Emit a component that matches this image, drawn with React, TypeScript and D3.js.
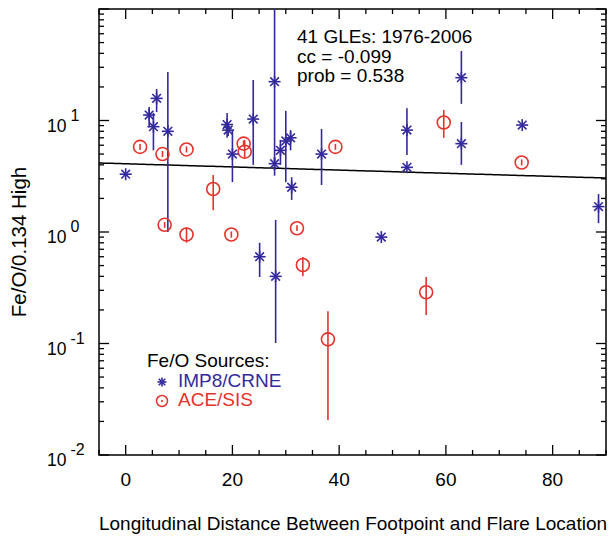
import React from "react";
import * as d3 from "d3";

// IMP8/CRNE (blue asterisks)
const impX = [0, 4.4, 5.8, 5.2, 7.9, 19.0, 19.2, 20.0, 23.9, 27.9, 27.9, 28.1, 29.0, 30.0, 30.9, 31.1, 25.1, 36.7, 47.9, 52.7, 52.7, 62.9, 62.9, 74.3, 88.6];
const impY = [3.3, 11.2, 15.8, 8.8, 8.0, 9.2, 8.2, 5.0, 10.3, 22.3, 4.1, 0.4, 5.4, 6.55, 7.0, 2.52, 0.6, 5.0, 0.9, 8.2, 3.8, 24.2, 6.2, 9.1, 1.69];
const impLo = [3.3, 8.7, 11.9, 5.4, 1.0, 7.0, 8.2, 2.8, 4.0, 3.2, 3.6, 0.101, 4.0, 2.8, 5.4, 1.94, 0.395, 2.64, 0.9, 4.9, 3.8, 14.1, 4.0, 9.1, 1.2];
const impHi = [3.3, 13.2, 19.2, 11.7, 27.2, 11.7, 8.2, 8.2, 23.1, 150, 4.7, 1.28, 6.7, 12.2, 8.2, 3.1, 0.8, 8.4, 0.9, 12.9, 3.8, 42, 9.7, 9.1, 2.19];

// ACE/SIS (red circles)
const aceX = [2.7, 6.9, 11.4, 16.4, 22.1, 22.3, 39.3, 59.6, 74.2, 7.3, 11.4, 19.8, 32.1, 33.2, 37.9, 56.3];
const aceY = [5.8, 5.0, 5.5, 2.43, 6.2, 5.25, 5.8, 9.6, 4.2, 1.16, 0.95, 0.95, 1.08, 0.506, 0.109, 0.288];
const aceLo = [5.45, 4.7, 5.17, 1.57, 5.83, 4.6, 5.45, 7.0, 3.95, 1.09, 0.8, 0.89, 1.02, 0.4, 0.0206, 0.18];
const aceHi = [6.17, 5.32, 5.85, 3.24, 6.6, 6.7, 6.17, 12.4, 4.47, 1.23, 1.1, 1.01, 1.15, 0.597, 0.195, 0.395];

// Fit line: log10(y) = a + b x
const fitA = 0.612;
const fitB = -0.00142;

const xTicks = [0, 20, 40, 60, 80];
const yDecades = [-2, -1, 0, 1];
const annot = ["41 GLEs: 1976-2006", "cc = -0.099", "prob = 0.538"];

const BLUE = "#33299c";
const RED = "#e4332a";
const FONT = "'Liberation Sans', Arial, Helvetica, sans-serif";

const L = 99, R = 606, T = 9, B = 455;

export default function App() {
  const x = d3.scaleLinear().domain([-5, 90]).range([L, R]);
  const y = d3.scaleLog().domain([0.01, 100]).range([B, T]);
  const cy = (v: number) => Math.max(T, Math.min(B, y(v)));

  const xMinor = d3.range(-5, 91, 5);
  const yMinor: number[] = [];
  for (let e = -2; e < 2; e++) for (let m = 2; m <= 9; m++) yMinor.push(m * Math.pow(10, e));

  const star = (px: number, py: number, s: number, key: string) => {
    const d = s * 0.72;
    return (
      <g key={key} stroke={BLUE} strokeWidth={1.6}>
        <line x1={px - s} y1={py} x2={px + s} y2={py} />
        <line x1={px} y1={py - s} x2={px} y2={py + s} />
        <line x1={px - d} y1={py - d} x2={px + d} y2={py + d} />
        <line x1={px - d} y1={py + d} x2={px + d} y2={py - d} />
      </g>
    );
  };

  const fitLine = d3.line<number>()
    .x((d) => x(d))
    .y((d) => y(Math.pow(10, fitA + fitB * d)));

  return (
    <svg width={612} height={536} style={{ position: "absolute", left: 0, top: 0, background: "#fff" }} fontFamily={FONT}>
      <defs>
        <clipPath id="plot">
          <rect x={L} y={T} width={R - L} height={B - T} />
        </clipPath>
      </defs>
      {/* frame */}
      <rect x={L} y={T} width={R - L} height={B - T} fill="none" stroke="#000" strokeWidth={1.5} />
      {/* x ticks */}
      {xMinor.map((v) => {
        const major = v % 20 === 0;
        const len = major ? 10 : 5;
        return (
          <g key={"xt" + v} stroke="#000" strokeWidth={1.3}>
            <line x1={x(v)} x2={x(v)} y1={B} y2={B - len} />
            <line x1={x(v)} x2={x(v)} y1={T} y2={T + len} />
          </g>
        );
      })}
      {xTicks.map((v) => (
        <text key={"xl" + v} x={x(v)} y={486} textAnchor="middle" fontSize={19}>{v}</text>
      ))}
      {/* y ticks */}
      {yDecades.concat([2]).map((e) => (
        <g key={"yt" + e} stroke="#000" strokeWidth={1.3}>
          <line x1={L} x2={L + 10} y1={y(Math.pow(10, e))} y2={y(Math.pow(10, e))} />
          <line x1={R} x2={R - 10} y1={y(Math.pow(10, e))} y2={y(Math.pow(10, e))} />
        </g>
      ))}
      {yMinor.map((v, i) => (
        <g key={"ym" + i} stroke="#000" strokeWidth={1.3}>
          <line x1={L} x2={L + 5} y1={y(v)} y2={y(v)} />
          <line x1={R} x2={R - 5} y1={y(v)} y2={y(v)} />
        </g>
      ))}
      {yDecades.map((e) => (
        <text key={"yl" + e} x={47} y={y(Math.pow(10, e)) + 11} fontSize={17.5}>
          10<tspan dy={-11} dx={4} fontSize={16}>{e}</tspan>
        </text>
      ))}
      <text transform={`translate(26,242) rotate(-90)`} textAnchor="middle" fontSize={20.5}>Fe/O/0.134 High</text>
      <text x={353} y={530} textAnchor="middle" fontSize={19}>Longitudinal Distance Between Footpoint and Flare Location</text>

      <g clipPath="url(#plot)">
        <path d={fitLine(d3.range(-5, 90.5, 0.5)) || ""} fill="none" stroke="#000" strokeWidth={1.5} />
        {/* error bars */}
        {impX.map((v, i) => (
          <line key={"ie" + i} x1={x(v)} x2={x(v)} y1={cy(impLo[i])} y2={cy(impHi[i])} stroke={BLUE} strokeWidth={1.6} />
        ))}
        {aceX.map((v, i) => (
          <line key={"ae" + i} x1={x(v)} x2={x(v)} y1={cy(aceLo[i])} y2={cy(aceHi[i])} stroke={RED} strokeWidth={1.6} />
        ))}
        {aceX.map((v, i) => (
          <circle key={"ac" + i} cx={x(v)} cy={y(aceY[i])} r={6.5} fill="none" stroke={RED} strokeWidth={1.6} />
        ))}
        {impX.map((v, i) => star(x(v), y(impY[i]), 6, "is" + i))}
      </g>

      {annot.map((t, i) => (
        <text key={"an" + i} x={297} y={43 + i * 19.5} fontSize={19}>{t}</text>
      ))}

      {/* legend */}
      <text x={147} y={367} fontSize={19}>Fe/O Sources:</text>
      {star(162, 382, 4.5, "lg1")}
      <text x={178} y={387} fontSize={19} fill={BLUE}>IMP8/CRNE</text>
      <circle cx={162} cy={401} r={5.5} fill="none" stroke={RED} strokeWidth={1.5} />
      <circle cx={162} cy={401} r={1.1} fill={RED} />
      <text x={178} y={406} fontSize={19} fill={RED}>ACE/SIS</text>
    </svg>
  );
}
